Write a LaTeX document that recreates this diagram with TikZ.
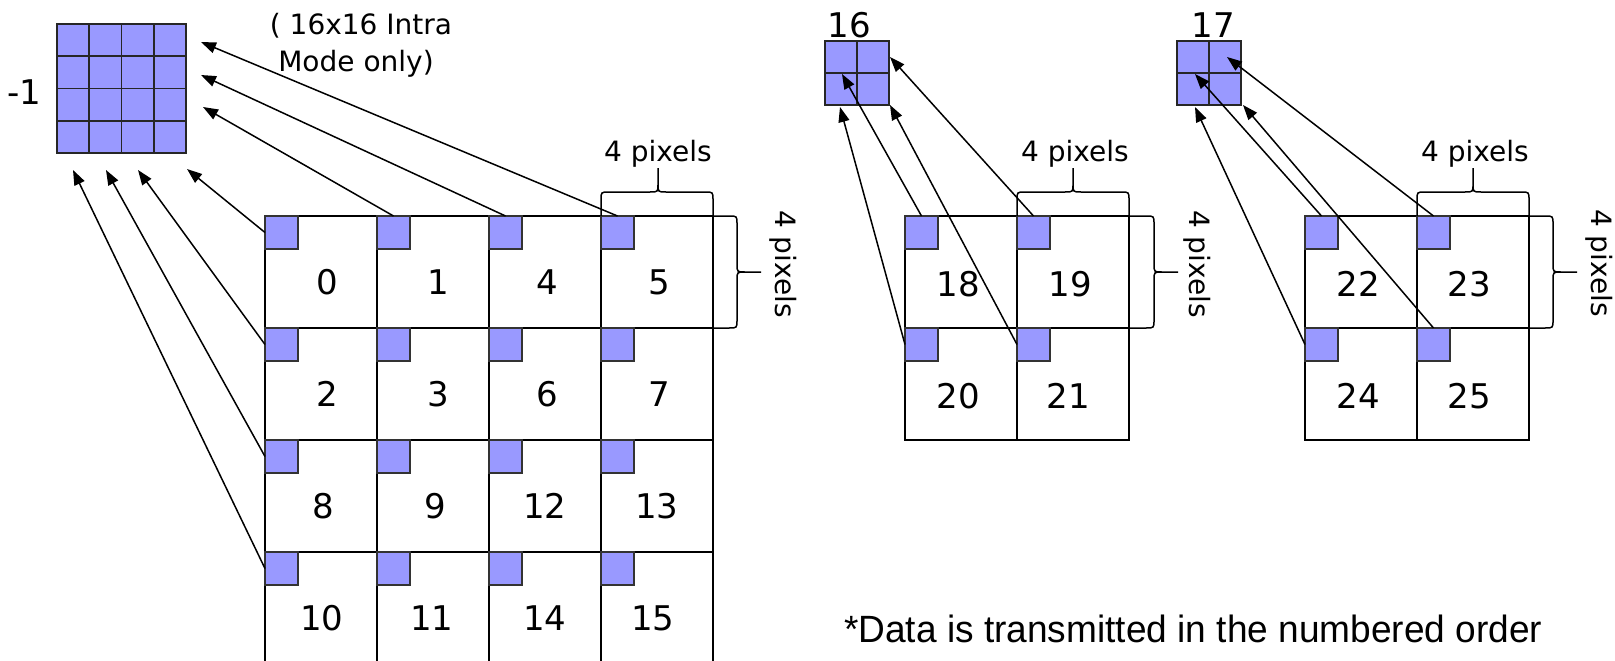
\documentclass[tikz,border=0pt]{standalone}
\usepackage{fontspec}
\setmainfont{DejaVu Sans}
\newfontfamily\arialfont{Liberation Sans}
\usetikzlibrary{arrows.meta}
\definecolor{pblue}{RGB}{153,153,255}
\newcommand\topbrace[3]{%
  \draw[brace] (#1,216) -- (#1,200) .. controls (#1,192) .. ({#1+8},192) -- ({#3-8},192)
    .. controls (#3,192) .. (#3,184) -- (#3,168)
    (#3,184) .. controls (#3,192) .. ({#3+8},192) -- ({#2-8},192)
    .. controls (#2,192) .. (#2,200) -- (#2,216);}
\newcommand\rightbrace[1]{%
  \draw[brace] (#1,216) -- ({#1+16},216) .. controls ({#1+24},216) .. ({#1+24},224) -- ({#1+24},264)
    .. controls ({#1+24},272) .. ({#1+32},272) -- ({#1+48},272)
    ({#1+32},272) .. controls ({#1+24},272) .. ({#1+24},280) -- ({#1+24},320)
    .. controls ({#1+24},328) .. ({#1+16},328) -- (#1,328);}
\begin{document}
\begin{tikzpicture}[x=1pt,y=-1pt,
  pix/.style={draw=black!80,line width=1.2pt,fill=pblue,minimum width=33pt,minimum height=33pt,inner sep=0pt,outer sep=0pt,anchor=north west},
  num/.style={font=\fontsize{34}{40}\selectfont,anchor=base,inner sep=0pt},
  lab/.style={font=\fontsize{28}{34}\selectfont,anchor=base,inner sep=0pt},
  vlab/.style={font=\fontsize{28}{34}\selectfont,rotate=-90,inner sep=0pt},
  arr/.style={-{Triangle[length=15pt,width=11pt]},line width=1.5pt},
  outer/.style={line width=1.3pt},
  inner/.style={line width=2.2pt},
  brace/.style={line width=1.5pt},
  blockline/.style={line width=1.6pt,draw=black!85}]
\useasboundingbox (0,0) rectangle (1615,661);
\clip (0,0) rectangle (1615,661);

% ---------- big -1 block ----------
\node[draw=black!85,line width=1.6pt,fill=pblue,minimum width=129pt,minimum height=129pt,inner sep=0pt,outer sep=0pt,anchor=north west] (m1) at (57,24) {};
\foreach \k in {1,2,3}{
  \draw[blockline] ({57+32.25*\k},24) -- ({57+32.25*\k},153);
  \draw[blockline] (57,{24+32.25*\k}) -- (186,{24+32.25*\k});
}
\node[num] (lm1) at (24,104) {-1};
\node[lab] (note1) at (361,35) {( 16x16 Intra};
\node[lab] (note2) at (356,72) {Mode only)};

% ---------- blocks 16 and 17 ----------
\node[draw=black!85,line width=1.6pt,fill=pblue,minimum width=64pt,minimum height=64pt,inner sep=0pt,outer sep=0pt,anchor=north west] (b16) at (825,41) {};
\draw[blockline] (857,41) -- (857,105) (825,73) -- (889,73);
\node[draw=black!85,line width=1.6pt,fill=pblue,minimum width=64pt,minimum height=64pt,inner sep=0pt,outer sep=0pt,anchor=north west] (b17) at (1177,41) {};
\draw[blockline] (1209,41) -- (1209,105) (1177,73) -- (1241,73);
\node[num] (l16) at (849,38) {16};
\node[num] (l17) at (1213,38) {17};

% ---------- left 4x4 grid ----------
\draw[outer] (265,670) -- (265,216) -- (713,216) -- (713,670);
\foreach \x in {377,489,601} \draw[inner] (\x,216) -- (\x,670);
\foreach \y in {328,440,552} \draw[inner] (265,\y) -- (713,\y);
\foreach \n/\c/\r in {0/0/0,1/1/0,4/2/0,5/3/0,2/0/1,3/1/1,6/2/1,7/3/1,8/0/2,9/1/2,12/2/2,13/3/2,10/0/3,11/1/3,14/2/3,15/3/3}
  \node[pix] (p\n) at ({265+112*\c},{216+112*\r}) {};
\foreach \n/\x/\y in {0/327/294,1/438/294,4/547/294,5/659/294,
                      2/327/406,3/438/406,6/547/406,7/659/406,
                      8/323/518,9/435/518,12/545/518,13/657/518,
                      10/322/630,11/432/630,14/545/630,15/653/630}
  \node[num] (n\n) at (\x,\y) {\n};

% ---------- middle 2x2 grid ----------
\draw[outer] (905,216) rectangle (1129,440);
\draw[inner] (1017,216) -- (1017,440) (905,328) -- (1129,328);
\foreach \n/\c/\r in {18/0/0,19/1/0,20/0/1,21/1/1}
  \node[pix] (p\n) at ({905+112*\c},{216+112*\r}) {};
\foreach \n/\x/\y in {18/958/296,19/1070/296,20/958/408,21/1068/408}
  \node[num] (n\n) at (\x,\y) {\n};

% ---------- right 2x2 grid ----------
\draw[outer] (1305,216) rectangle (1529,440);
\draw[inner] (1417,216) -- (1417,440) (1305,328) -- (1529,328);
\foreach \n/\c/\r in {22/0/0,23/1/0,24/0/1,25/1/1}
  \node[pix] (p\n) at ({1305+112*\c},{216+112*\r}) {};
\foreach \n/\x/\y in {22/1358/296,23/1469/296,24/1358/408,25/1469/408}
  \node[num] (n\n) at (\x,\y) {\n};

% ---------- braces and size labels ----------
\topbrace{601}{713}{658}
\rightbrace{713}
\node[lab] (w1) at (658,161) {4 pixels};
\node[vlab] (h1) at (783,264) {4 pixels};
\topbrace{1017}{1129}{1073}
\rightbrace{1130}
\node[lab] (w2) at (1075,161) {4 pixels};
\node[vlab] (h2) at (1197,264) {4 pixels};
\topbrace{1417}{1529}{1473}
\rightbrace{1529}
\node[lab] (w3) at (1475,161) {4 pixels};
\node[vlab] (h3) at (1599,263) {4 pixels};

% ---------- arrow targets ----------
\coordinate (a5) at (201,42);
\coordinate (a4) at (201,75);
\coordinate (a1) at (203,107);
\coordinate (a0) at (187,169);
\coordinate (a2) at (138,170);
\coordinate (a8) at (106,170);
\coordinate (a10) at (73,170);
\coordinate (a18) at (842,74);
\coordinate (a19) at (890,57);
\coordinate (a20) at (840,107);
\coordinate (a21) at (890,105);
\coordinate (a22) at (1195,74);
\coordinate (a23) at (1227,57);
\coordinate (a24) at (1195,107);
\coordinate (a25) at (1243,105);

\draw[arr] (p5.north) -- (a5);
\draw[arr] (p4.north) -- (a4);
\draw[arr] (p1.north) -- (a1);
\draw[arr] (p0.west) -- (a0);
\draw[arr] (p2.west) -- (a2);
\draw[arr] (p8.west) -- (a8);
\draw[arr] (p10.west) -- (a10);
\draw[arr] (p18.north) -- (a18);
\draw[arr] (p19.north) -- (a19);
\draw[arr] (p20.west) -- (a20);
\draw[arr] (p21.west) -- (a21);
\draw[arr] (p22.north) -- (a22);
\draw[arr] (p23.north) -- (a23);
\draw[arr] (p24.west) -- (a24);
\draw[arr] (p25.north) -- (a25);

% ---------- footnote ----------
\node[anchor=base west,inner sep=0pt,font=\arialfont\fontsize{38}{44}\selectfont] (foot) at (844,642)
  {\resizebox{698pt}{\height}{*Data is transmitted in the numbered order}};
\end{tikzpicture}
\end{document}
